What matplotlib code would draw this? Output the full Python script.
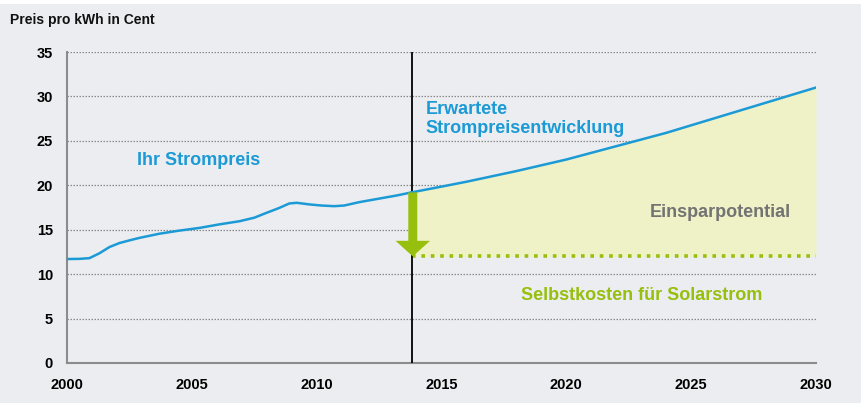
import numpy as np
import matplotlib.pyplot as plt
from matplotlib.patches import FancyArrow, Rectangle

plt.rcParams["font.family"] = ["Liberation Sans", "DejaVu Sans"]
plt.rcParams["font.weight"] = "bold"

# historical electricity price (ct/kWh)
hist_years = [2000, 2000.5, 2000.9, 2001.3, 2001.7, 2002.1, 2002.5, 2002.9,
              2003.7, 2004.5, 2005.3, 2006.1, 2006.9, 2007.5, 2007.9, 2008.5,
              2008.9, 2009.2, 2009.7, 2010.2, 2010.7, 2011.1, 2011.7, 2012.5,
              2013.2, 2013.8]
hist_price = [11.7, 11.72, 11.8, 12.35, 13.05, 13.5, 13.8, 14.08,
              14.55, 14.9, 15.2, 15.6, 15.95, 16.35, 16.8, 17.45,
              17.95, 18.03, 17.85, 17.72, 17.65, 17.72, 18.1, 18.5,
              18.85, 19.2]

# projected price
proj_years = [2013.8, 2015, 2016, 2018, 2020, 2022, 2024, 2026, 2028, 2030]
proj_price = [19.2, 19.85, 20.4, 21.6, 22.9, 24.4, 25.9, 27.6, 29.3, 31.0]

solar_cost = 12.0
today = 2013.8

year_ticks = [2000, 2005, 2010, 2015, 2020, 2025, 2030]
price_ticks = [0, 5, 10, 15, 20, 25, 30, 35]

BG = "#ecedf0"
BLUE = "#1b9ad6"
GREEN = "#97bf0d"
FILL = "#eff2c6"
GRAY_TXT = "#737373"
AXIS_GRAY = "#8c8c8c"

fig = plt.figure(figsize=(8.61, 4.03), dpi=100, facecolor=BG)
fig.patches.append(Rectangle((0, 1 - 4 / 403), 1, 4 / 403, transform=fig.transFigure,
                             facecolor="white", edgecolor="none"))
ax = fig.add_axes([67 / 861, 40 / 403, 749 / 861, 311 / 403])
ax.set_facecolor(BG)

ax.set_xlim(2000, 2030)
ax.set_ylim(0, 35)
ax.set_xticks(year_ticks)
ax.set_yticks(price_ticks)
ax.tick_params(length=0, labelsize=10.5)
ax.tick_params(axis="x", pad=11)
ax.tick_params(axis="y", pad=10)
for lbl in ax.get_xticklabels() + ax.get_yticklabels():
    lbl.set_fontweight("bold")

for s in ["top", "right"]:
    ax.spines[s].set_visible(False)
for s in ["left", "bottom"]:
    ax.spines[s].set_color(AXIS_GRAY)
    ax.spines[s].set_linewidth(1.5)

for v in price_ticks[1:]:
    ax.axhline(v, color="#8a8a8a", lw=0.9, ls=(0, (1.2, 1.2)), zorder=1)

# savings area
ax.fill_between(proj_years, solar_cost, proj_price, color=FILL, lw=0, zorder=2)
ax.plot([today, 2030], [solar_cost, solar_cost], color=GREEN, lw=2.6,
        ls=(0, (1, 1.6)), zorder=3)

ax.axvline(today, color="black", lw=1.3, zorder=4)

ax.plot(hist_years, hist_price, color=BLUE, lw=1.8, zorder=5,
        solid_joinstyle="round")
ax.plot(proj_years, proj_price, color=BLUE, lw=1.8, zorder=5)

arrow = FancyArrow(today + 0.05, proj_price[0], 0, solar_cost - proj_price[0],
                   width=0.36, head_width=1.38, head_length=1.75,
                   length_includes_head=True, color=GREEN, lw=0, zorder=6)
ax.add_patch(arrow)

fig.text(10 / 861, 1 - 20 / 403, "Preis pro kWh in Cent", fontsize=10,
         fontweight="bold", va="center", ha="left", color="#111111")

ax.text(2002.8, 22.75, "Ihr Strompreis", color=BLUE, fontsize=13,
        fontweight="bold", va="center")
ax.text(2014.35, 27.45, "Erwartete\nStrompreisentwicklung", color=BLUE,
        fontsize=13, fontweight="bold", va="center", linespacing=1.15)
ax.text(2023.35, 16.9, "Einsparpotential", color=GRAY_TXT, fontsize=13,
        fontweight="bold", va="center")
ax.text(2018.17, 7.56, "Selbstkosten für Solarstrom", color=GREEN, fontsize=13,
        fontweight="bold", va="center")

fig.savefig("out.png", dpi=100, facecolor=BG)
